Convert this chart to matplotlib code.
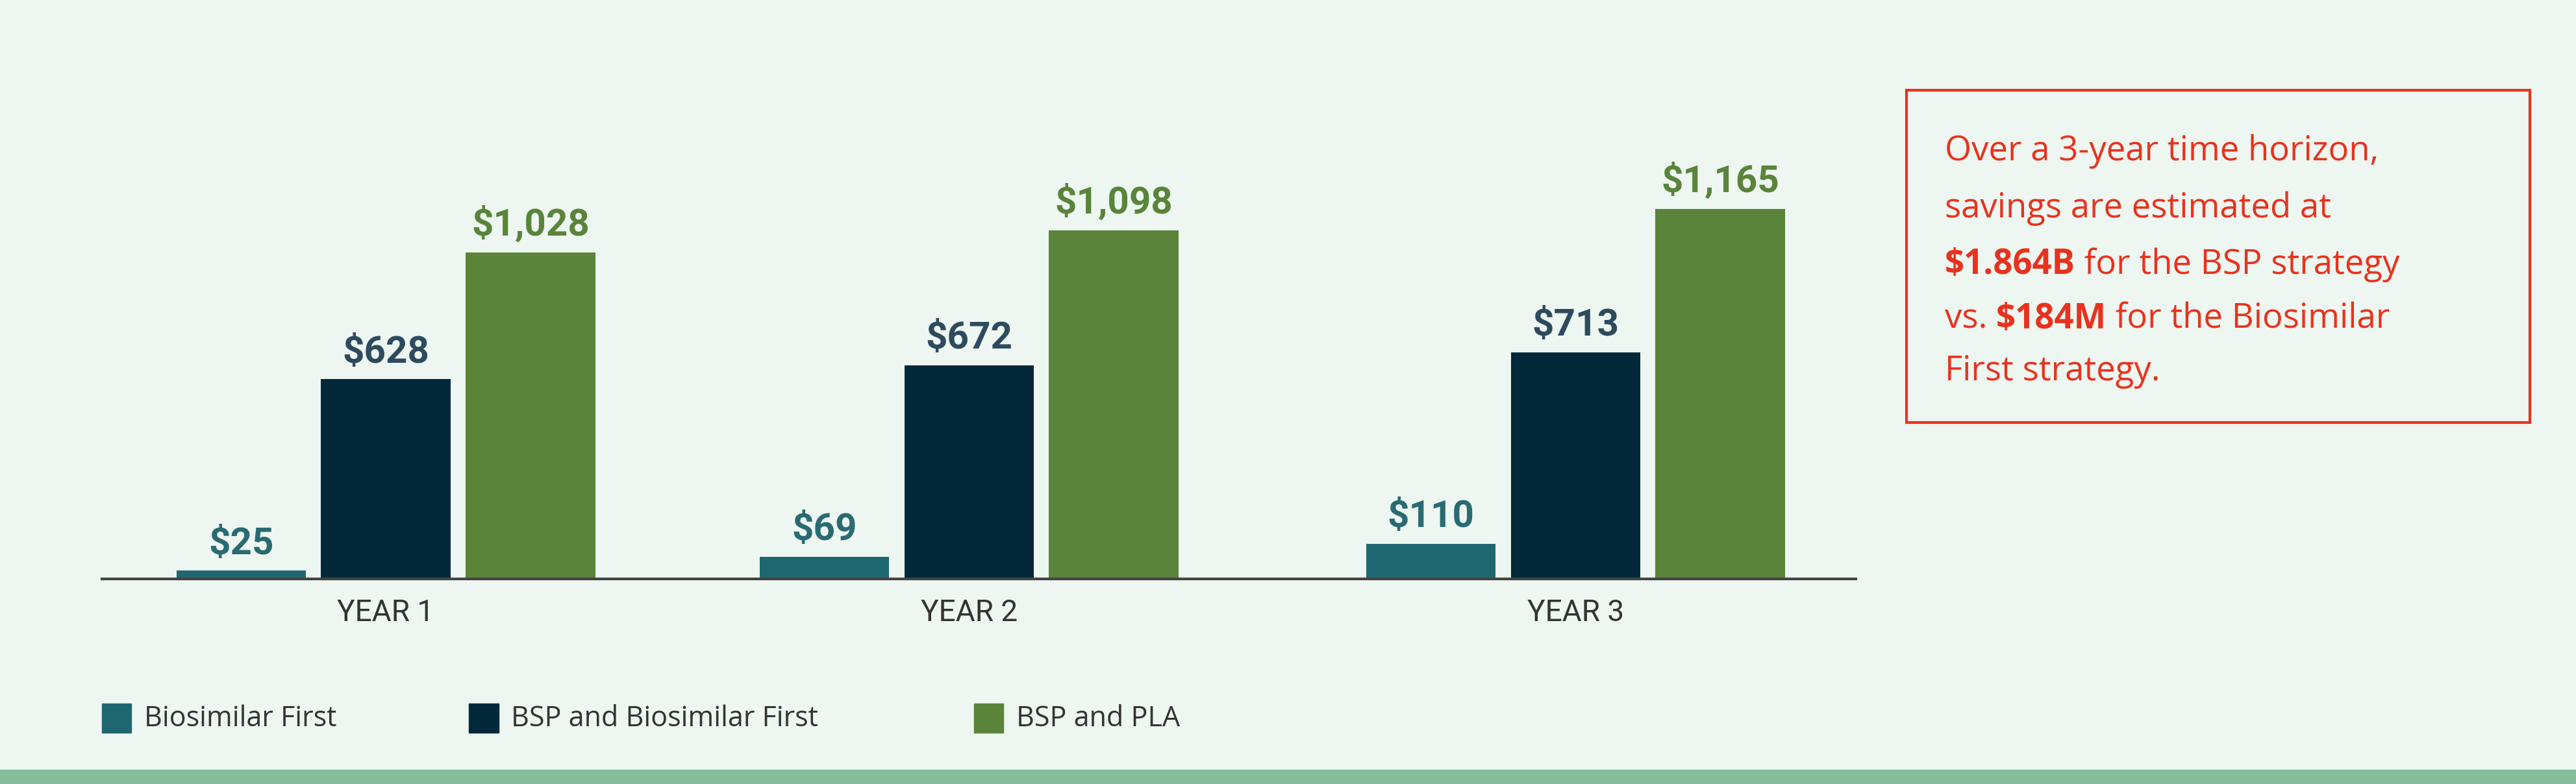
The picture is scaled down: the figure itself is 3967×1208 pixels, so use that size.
import matplotlib.pyplot as plt
from matplotlib.patches import Rectangle

years = ["YEAR 1", "YEAR 2", "YEAR 3"]
series = ["Biosimilar First", "BSP and Biosimilar First", "BSP and PLA"]
biosimilar_first = [25, 69, 110]
bsp_biosimilar = [628, 672, 713]
bsp_pla = [1028, 1098, 1165]

bar_colors = ["#1f6770", "#03283a", "#5a843a"]
label_colors = ["#2a6a72", "#2e4a5e", "#5a843a"]
red = "#e8321e"
bg = "#edf6f0"

fig = plt.figure(figsize=(39.67, 12.08), dpi=100)
fig.patch.set_facecolor(bg)
ax = fig.add_axes([0.0395, 0.262, 0.681, 0.612])
ax.set_facecolor(bg)

centers = [0, 1, 2.04]
width = 0.222
step = 0.248
for i, vals in enumerate([biosimilar_first, bsp_biosimilar, bsp_pla]):
    xs = [c + (i - 1) * step for c in centers]
    ax.bar(xs, vals, width=width, color=bar_colors[i])
    for x, v in zip(xs, vals):
        ax.text(x, v + 28, f"${v:,}", ha="center", va="bottom", fontsize=42,
                fontweight="bold", color=label_colors[i], family="Roboto")

ax.set_xlim(-0.487, 2.521)
ax.set_ylim(0, 1512)
for s in ["top", "right", "left"]:
    ax.spines[s].set_visible(False)
ax.spines["bottom"].set_linewidth(3)
ax.spines["bottom"].set_color("#444444")
ax.set_yticks([])
ax.set_xticks(centers)
ax.set_xticklabels(years, fontsize=33, color="#333333", family="Roboto")
ax.tick_params(axis="x", length=0, pad=22)

# legend
lx = [0.0395, 0.182, 0.378]
for x, name, col in zip(lx, series, bar_colors):
    fig.patches.append(Rectangle((x, 0.065), 0.0115, 0.038, transform=fig.transFigure,
                                 color=col))
    fig.text(x + 0.0165, 0.083, name, fontsize=31, color="#333333", va="center",
             family="Open Sans")

# bottom stripe
fig.patches.append(Rectangle((0, 0), 1, 0.018, transform=fig.transFigure, color="#86bd9c"))

# callout box
fig.patches.append(Rectangle((0.740, 0.461), 0.242, 0.424, transform=fig.transFigure,
                             fill=False, edgecolor=red, linewidth=3))
lines = [
    [("Over a 3-year time horizon,", "normal")],
    [("savings are estimated at", "normal")],
    [("$1.864B", "bold"), (" for the BSP strategy", "normal")],
    [("vs. ", "normal"), ("$184M", "bold"), (" for the Biosimilar", "normal")],
    [("First strategy.", "normal")],
]
ys = [0.807, 0.734, 0.662, 0.593, 0.526]
fig.canvas.draw()
r = fig.canvas.get_renderer()
for parts, y in zip(lines, ys):
    x = 0.755
    for txt, w in parts:
        t = fig.text(x, y, txt, fontsize=38, color=red, fontweight=w, va="center",
                     family="Open Sans")
        bb = t.get_window_extent(renderer=r)
        x += bb.width / fig.bbox.width

fig.savefig("out.png", dpi=100, facecolor=bg)
